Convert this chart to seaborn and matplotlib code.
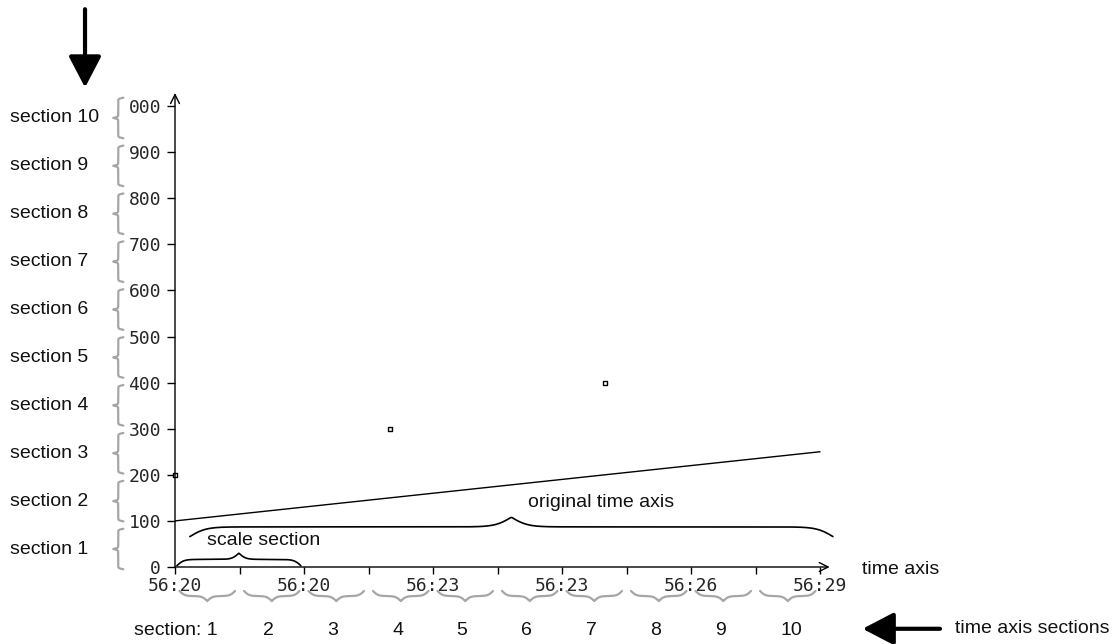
import numpy as np
import seaborn as sns
import matplotlib.pyplot as plt

# values
line_x = [0, 10]
line_y = [100, 250]
point_x = [0, 3.33, 6.67]
point_y = [200, 300, 400]

x_ticks = list(range(11))
x_tick_labels = ['56:20', '', '56:20', '', '56:23', '', '56:23', '', '56:26', '', '56:29']
y_ticks = list(range(0, 1001, 100))
y_tick_labels = ['0', '100', '200', '300', '400', '500', '600', '700', '800', '900', '000']
y_sections = ['section %d' % i for i in range(1, 11)]
x_sections = ['section: 1'] + [str(i) for i in range(2, 11)]

TEXT = 'Liberation Sans'
GREY = '#a6a6a6'


def brace(ax, a, b, base, depth, beta, vertical=False, **kw):
    # curly brace from a to b, ends at `base`, tip at base + depth
    t = np.linspace(a, b, 600)
    half = (b - a) / 2
    u = np.where(t <= a + half, t - a, b - t)
    s = 1 / (1 + np.exp(-beta * u)) + 1 / (1 + np.exp(-beta * (u - half))) - 0.5
    off = base + depth * s
    if vertical:
        ax.plot(off, t, clip_on=False, solid_capstyle='round', **kw)
    else:
        ax.plot(t, off, clip_on=False, solid_capstyle='round', **kw)


sns.set_style('white')
plt.rcParams['font.family'] = ['DejaVu Sans Mono', 'DejaVu Sans']

fig = plt.figure(figsize=(11.18, 6.44), dpi=100)
ax = fig.add_axes([175 / 1118, 77 / 644, 654.7 / 1118, 473.9 / 644])
ax.set_xlim(0, 10.15)
ax.set_ylim(0, 1028)

sns.lineplot(x=line_x, y=line_y, ax=ax, color='black', lw=1)
sns.scatterplot(x=point_x, y=point_y, ax=ax, marker='s', s=10, facecolor='white',
                edgecolor='black', linewidth=1, clip_on=False, zorder=3)

# axes drawn as arrows
for s in ax.spines.values():
    s.set_visible(False)
ax.annotate('', xy=(10.15, 0), xytext=(0, 0), annotation_clip=False,
            arrowprops=dict(arrowstyle='->', lw=1, color='black', shrinkA=0, shrinkB=0, mutation_scale=16))
ax.annotate('', xy=(0, 1028), xytext=(0, 0), annotation_clip=False,
            arrowprops=dict(arrowstyle='->', lw=1, color='black', shrinkA=0, shrinkB=0, mutation_scale=16))

ax.set_xticks(x_ticks)
ax.set_xticklabels(x_tick_labels)
ax.set_yticks(y_ticks)
ax.set_yticklabels(y_tick_labels)
ax.tick_params(axis='x', length=5, width=1, color='black', pad=2.5, labelsize=13, direction='out', bottom=True)
ax.tick_params(axis='y', length=6, width=1, color='black', pad=4, labelsize=13, direction='out', left=True)
ax.grid(False)

# y sections on the left
y_mid = np.linspace(39, 974, 10)
for lab, m in zip(y_sections, y_mid):
    brace(ax, m - 44, m + 44, -0.80, -0.16, 0.9, vertical=True, color=GREY, lw=1.6)
    ax.text(-2.56, m, lab, family=TEXT, fontsize=14, ha='left', va='center', color='#111111')

# x sections below
label_x = [0.66] + [i + 0.45 for i in range(1, 9)] + [9.55]
for i, (lab, lx) in enumerate(zip(x_sections, label_x)):
    brace(ax, i + 0.07, i + 0.93, -52, -22, 26, color=GREY, lw=1.6)
    ax.text(lx, -137, lab, family=TEXT, fontsize=14, ha='right' if i == 0 else 'center',
            va='center', color='#111111')

# black braces
brace(ax, 0.03, 1.95, 3, 27, 19, color='black', lw=1.2)
ax.text(0.50, 58, 'scale section', family=TEXT, fontsize=14, ha='left', va='center', color='#111111')
brace(ax, 0.23, 10.2, 66, 42, 8, color='black', lw=1.2)
ax.text(5.47, 139, 'original time axis', family=TEXT, fontsize=14, ha='left', va='center', color='#111111')

ax.text(10.65, -6, 'time axis', family=TEXT, fontsize=14, ha='left', va='center', color='#111111')
ax.text(12.09, -134, 'time axis sections', family=TEXT, fontsize=14, ha='left', va='center', color='#111111')

# big pointer arrows
head = '-|>,head_length=0.48,head_width=0.25'
ax.annotate('', xy=(-1.395, 1040), xytext=(-1.395, 1210), annotation_clip=False,
            arrowprops=dict(arrowstyle=head, lw=3, color='black', shrinkA=0, shrinkB=0, mutation_scale=40))
ax.annotate('', xy=(10.66, -134), xytext=(11.86, -134), annotation_clip=False,
            arrowprops=dict(arrowstyle=head, lw=3, color='black', shrinkA=0, shrinkB=0, mutation_scale=40))

fig.savefig('out.png', dpi=100)
